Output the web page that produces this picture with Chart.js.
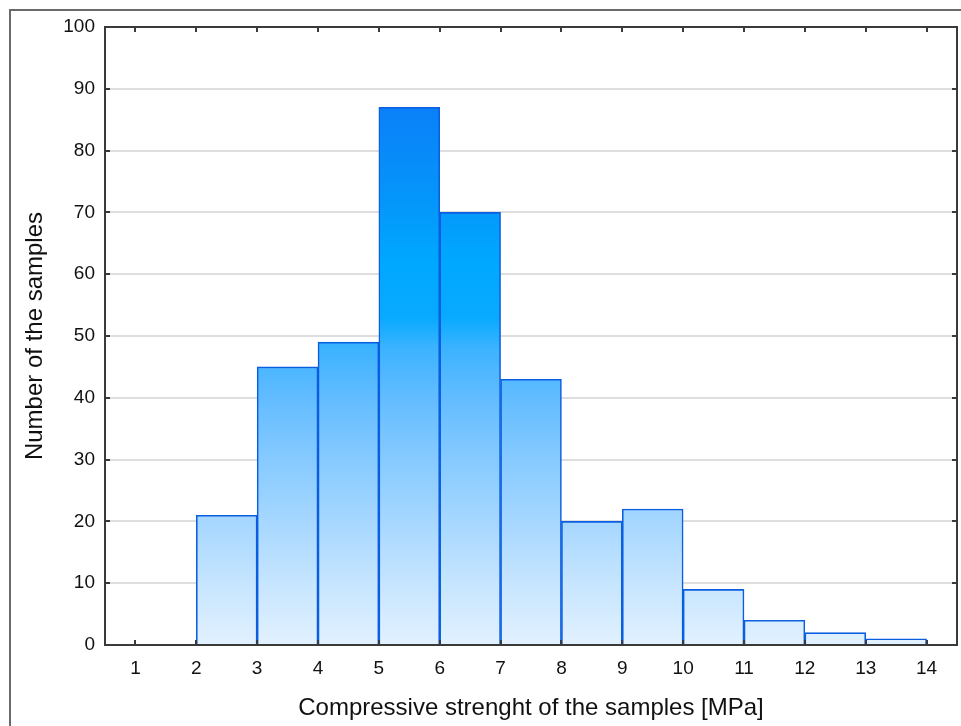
<!DOCTYPE html>
<html>
<head>
<meta charset="utf-8">
<script src="https://cdn.jsdelivr.net/npm/chart.js@4/dist/chart.umd.min.js"></script>
<style>
  html, body { margin: 0; padding: 0; background: #fff; overflow: hidden; }
  #wrap { position: relative; width: 961px; height: 726px; }
  #frame { position: absolute; left: 9px; top: 9px; width: 1000px; height: 1000px;
           border-left: 2px solid #6a6a6a; border-top: 2px solid #6a6a6a; }
  canvas { position: absolute; left: 0; top: 0; }
</style>
</head>
<body>
<div id="wrap">
  <div id="frame"></div>
  <canvas id="histChart" width="961" height="726"></canvas>
</div>
<script>
// bins [a, a+1] MPa, counts
const binStarts = [2, 3, 4, 5, 6, 7, 8, 9, 10, 11, 12, 13];
const counts = [21, 45, 49, 87, 70, 43, 20, 22, 9, 4, 2, 1];
const xTicks = [1, 2, 3, 4, 5, 6, 7, 8, 9, 10, 11, 12, 13, 14];
const yTicks = [0, 10, 20, 30, 40, 50, 60, 70, 80, 90, 100];

// colour by value on the y axis (shared by all bars)
const gradStops = [
  [0, '#e2f1ff'], [10, '#c6e5ff'], [20, '#a6d7ff'], [30, '#86caff'],
  [40, '#62bcff'], [48, '#3cb3ff'], [53, '#08aaff'], [62, '#00a8ff'],
  [72, '#0496fa'], [87, '#0a80f8'], [100, '#0a70f0']
];

const fontFam = '"Liberation Sans", Arial, sans-serif';
const textCol = '#111';

function barFill(context) {
  const chart = context.chart;
  const ys = chart.scales.y;
  if (!chart.chartArea || !ys) return '#60bcff';
  const y0 = ys.getPixelForValue(0), y1 = ys.getPixelForValue(100);
  const g = chart.ctx.createLinearGradient(0, y0, 0, y1);
  gradStops.forEach(s => g.addColorStop(s[0] / 100, s[1]));
  return g;
}

// plot box + inward tick marks
const boxPlugin = {
  id: 'box',
  afterDraw(chart) {
    const c = chart.ctx, a = chart.chartArea;
    const xs = chart.scales.x, ys = chart.scales.y;
    c.save();
    c.strokeStyle = '#3a3a3a';
    c.lineWidth = 2;
    c.beginPath();
    xTicks.forEach(v => {
      const px = Math.round(xs.getPixelForValue(v));
      c.moveTo(px, a.bottom); c.lineTo(px, a.bottom - 5);
      c.moveTo(px, a.top); c.lineTo(px, a.top + 5);
    });
    yTicks.forEach(v => {
      const py = Math.round(ys.getPixelForValue(v));
      c.moveTo(a.left, py); c.lineTo(a.left + 5, py);
      c.moveTo(a.right, py); c.lineTo(a.right - 5, py);
    });
    c.stroke();
    c.strokeRect(a.left, a.top, a.right - a.left, a.bottom - a.top);
    c.restore();
  }
};

const ctx = document.getElementById('histChart').getContext('2d');

var histChart = new Chart(ctx, {
  type: 'bar',
  data: {
    datasets: [{
      label: 'Number of the samples',
      data: binStarts.map((b, i) => ({ x: b + 0.5, y: counts[i] })),
      backgroundColor: barFill,
      borderColor: '#0a5ee0',
      borderWidth: 1.6,
      barPercentage: 1,
      categoryPercentage: 1,
    }]
  },
  options: {
    responsive: false,
    animation: false,
    layout: { padding: { top: 27, right: 4, left: 0, bottom: 0 } },
    plugins: { legend: { display: false }, tooltip: { enabled: false } },
    scales: {
      x: {
        type: 'linear',
        offset: false,
        min: 0.5,
        max: 14.5,
        afterBuildTicks: s => { s.ticks = xTicks.map(v => ({ value: v })); },
        afterFit: s => { s.height = 81; },
        grid: { display: false, drawTicks: false },
        border: { display: false },
        ticks: { padding: 12, color: textCol, font: { family: fontFam, size: 19 } },
        title: {
          display: true,
          text: 'Compressive strenght of the samples [MPa]',
          color: textCol,
          font: { family: fontFam, size: 24 },
          padding: { top: 0, bottom: 3 },
        },
      },
      y: {
        min: 0,
        max: 100,
        afterBuildTicks: s => { s.ticks = yTicks.map(v => ({ value: v })); },
        afterFit: s => { s.width = 105; },
        grid: { color: '#dedede', lineWidth: 2, drawTicks: false },
        border: { display: false },
        ticks: { padding: 10, color: textCol, font: { family: fontFam, size: 19 } },
        title: {
          display: true,
          text: 'Number of the samples',
          color: textCol,
          font: { family: fontFam, size: 24 },
          padding: { top: 21, bottom: 0 },
        },
      },
    },
  },
  plugins: [boxPlugin],
});
</script>
</body>
</html>
